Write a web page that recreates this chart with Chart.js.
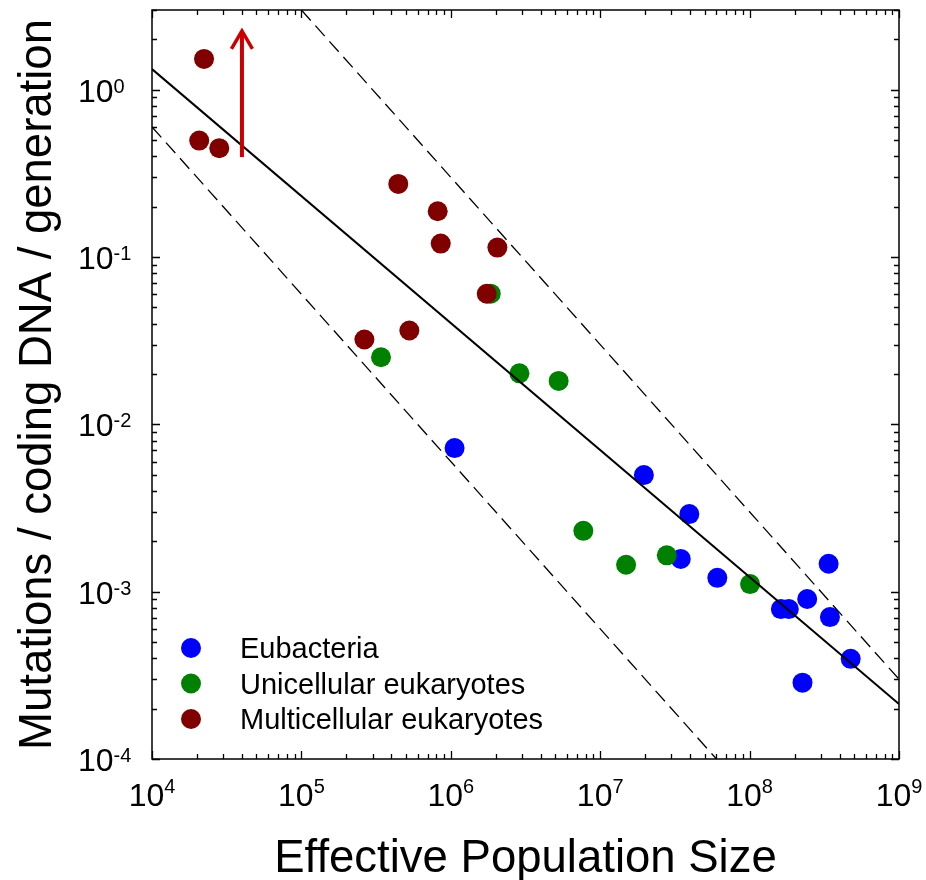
<!DOCTYPE html>
<html>
<head>
<meta charset="utf-8">
<script src="https://cdn.jsdelivr.net/npm/chart.js@4.4.1/dist/chart.umd.min.js"></script>
<style>
  html, body { margin: 0; padding: 0; background: #fff; }
  #wrap { width: 926px; height: 880px; }
</style>
</head>
<body>
<div id="wrap"><canvas id="c" width="926" height="880"></canvas></div>
<script>
// ---- Data ----
const xTickExponents = [4, 5, 6, 7, 8, 9];
const yTickExponents = [0, -1, -2, -3, -4];

const eubacteriaX = [1.06e6, 1.96e7, 3.95e7, 3.46e7, 6.08e7, 3.38e8, 1.62e8, 1.83e8, 2.43e8, 3.45e8, 4.75e8, 2.26e8];
const eubacteriaY = [0.00722, 0.00498, 0.00291, 0.00157, 0.00121, 0.00147, 0.000787, 0.000787, 0.000904, 0.000705, 0.000397, 0.000286];

const unicellularX = [3.41e5, 1.85e6, 2.88e6, 5.27e6, 7.71e6, 1.49e7, 2.79e7, 1.007e8];
const unicellularY = [0.0252, 0.0605, 0.0202, 0.0182, 0.00231, 0.00145, 0.00165, 0.00111];

const multicellularX = [2.23e4, 2.07e4, 2.82e4, 4.45e5, 8.17e5, 8.56e5, 2.05e6, 1.74e6, 2.64e5, 5.28e5];
const multicellularY = [1.53, 0.497, 0.448, 0.274, 0.188, 0.1205, 0.114, 0.0604, 0.0322, 0.0364];

const fitX = [1e4, 1e9];
const fitY = [1.33, 2.13e-4];
const upperX = [1e5, 1e9];
const upperY = [3, 3e-4];
const lowerX = [1e4, 6e7];
const lowerY = [0.6, 1e-4];
const arrowX = [4e4, 4e4];
const arrowY = [0.396, 2.25];

const xTitle = 'Effective Population Size';
const yTitle = 'Mutations / coding DNA / generation';

// ---- Helpers ----
const pts = (xs, ys) => xs.map((x, i) => ({ x: x, y: ys[i] }));
const FONT = '"Liberation Sans", Arial, Helvetica, sans-serif';

const framePlugin = {
  id: 'framePlugin',
  afterDatasetsDraw(chart) {
    const ctx = chart.ctx;
    // arrow head
    const idx = chart.data.datasets.findIndex(d => d.label === 'arrow');
    const meta = chart.getDatasetMeta(idx);
    const tip = meta.data[meta.data.length - 1];
    ctx.save();
    ctx.strokeStyle = '#cc0000';
    ctx.lineWidth = 3.5;
    ctx.lineJoin = 'miter';
    ctx.beginPath();
    ctx.moveTo(tip.x - 10.5, tip.y + 18);
    ctx.lineTo(tip.x, tip.y);
    ctx.lineTo(tip.x + 10.5, tip.y + 18);
    ctx.stroke();
    ctx.restore();
  },
  afterDraw(chart) {
    const ctx = chart.ctx;
    const a = chart.chartArea;
    const xs = chart.scales.x, ys = chart.scales.y;
    ctx.save();
    // frame
    ctx.strokeStyle = '#000';
    ctx.lineWidth = 1.5;
    ctx.strokeRect(a.left, a.top, a.right - a.left, a.bottom - a.top);
    ctx.lineWidth = 1.3;
    // x ticks (bottom & top), inward
    ctx.beginPath();
    for (let e = 4; e <= 9; e++) {
      for (let m = 1; m <= 9; m++) {
        const v = m * Math.pow(10, e);
        if (v > 1e9 + 1) break;
        const px = Math.round(xs.getPixelForValue(v)) + 0.5;
        const len = m === 1 ? 8 : 5;
        ctx.moveTo(px, a.bottom); ctx.lineTo(px, a.bottom - len);
        ctx.moveTo(px, a.top); ctx.lineTo(px, a.top + len);
      }
    }
    // y ticks (left & right), inward
    for (let e = -4; e <= 0; e++) {
      for (let m = 1; m <= 9; m++) {
        const v = m * Math.pow(10, e);
        if (v > 3 + 1e-9) break;
        const py = Math.round(ys.getPixelForValue(v)) + 0.5;
        const len = m === 1 ? 8 : 5;
        ctx.moveTo(a.left, py); ctx.lineTo(a.left + len, py);
        ctx.moveTo(a.right, py); ctx.lineTo(a.right - len, py);
      }
    }
    ctx.stroke();

    // tick labels
    ctx.fillStyle = '#000';
    const baseFont = '32px ' + FONT;
    const expFont = '20px ' + FONT;
    ctx.textBaseline = 'alphabetic';
    ctx.textAlign = 'left';
    xTickExponents.forEach(e => {
      const px = xs.getPixelForValue(Math.pow(10, e));
      ctx.font = baseFont; const wb = ctx.measureText('10').width;
      ctx.font = expFont; const we = ctx.measureText(String(e)).width;
      const start = px - (wb + we) / 2;
      ctx.font = baseFont; ctx.fillText('10', start, 806);
      ctx.font = expFont; ctx.fillText(String(e), start + wb, 793);
    });
    yTickExponents.forEach(e => {
      const py = ys.getPixelForValue(Math.pow(10, e));
      ctx.font = baseFont; const wb = ctx.measureText('10').width;
      ctx.fillText('10', 78, py + 12);
      ctx.font = expFont; ctx.fillText(String(e), 78 + wb, py + 3);
    });

    // axis titles
    ctx.font = '45.5px ' + FONT;
    ctx.textAlign = 'center';
    ctx.fillText(xTitle, (a.left + a.right) / 2, 872);
    ctx.save();
    ctx.translate(51, (a.top + a.bottom) / 2);
    ctx.rotate(-Math.PI / 2);
    ctx.fillText(yTitle, 0, 0);
    ctx.restore();

    // legend
    const legendSets = chart.data.datasets.filter(d => d.inLegend);
    ctx.font = '29px ' + FONT;
    ctx.textAlign = 'left';
    legendSets.forEach((d, i) => {
      const cy = 648 + i * 35.5;
      ctx.fillStyle = d.backgroundColor;
      ctx.beginPath(); ctx.arc(191, cy, 10, 0, Math.PI * 2); ctx.fill();
      ctx.fillStyle = '#000';
      ctx.fillText(d.label, 240, cy + 10);
    });
    ctx.restore();
  }
};

const scatterStyle = (color, order) => ({
  backgroundColor: color, borderColor: color, pointRadius: 10, pointHoverRadius: 10,
  pointBorderWidth: 0, borderWidth: 0, showLine: false, order: order, inLegend: true
});
const lineStyle = (color, width, dash, order) => ({
  showLine: true, borderColor: color, borderWidth: width, borderDash: dash,
  pointRadius: 0, pointHoverRadius: 0, fill: false, order: order
});

new Chart(document.getElementById('c'), {
  type: 'scatter',
  data: {
    datasets: [
      Object.assign({ label: 'Eubacteria', data: pts(eubacteriaX, eubacteriaY) }, scatterStyle('#0000ff', 3)),
      Object.assign({ label: 'Unicellular eukaryotes', data: pts(unicellularX, unicellularY) }, scatterStyle('#008000', 2)),
      Object.assign({ label: 'Multicellular eukaryotes', data: pts(multicellularX, multicellularY) }, scatterStyle('#800000', 1)),
      Object.assign({ label: 'fit', data: pts(fitX, fitY) }, lineStyle('#000', 2, [], 0)),
      Object.assign({ label: 'upper', data: pts(upperX, upperY) }, lineStyle('#000', 1.3, [14, 7], 0)),
      Object.assign({ label: 'lower', data: pts(lowerX, lowerY) }, lineStyle('#000', 1.3, [14, 7], 0)),
      Object.assign({ label: 'arrow', data: pts(arrowX, arrowY) }, lineStyle('#cc0000', 4, [], -1))
    ]
  },
  options: {
    responsive: false,
    animation: false,
    devicePixelRatio: 1,
    events: [],
    layout: { padding: { left: 152, right: 27, top: 10, bottom: 121 } },
    plugins: { legend: { display: false }, tooltip: { enabled: false } },
    scales: {
      x: { type: 'logarithmic', min: 1e4, max: 1e9, display: false },
      y: { type: 'logarithmic', min: 1e-4, max: 3, display: false }
    }
  },
  plugins: [framePlugin]
});
</script>
</body>
</html>
